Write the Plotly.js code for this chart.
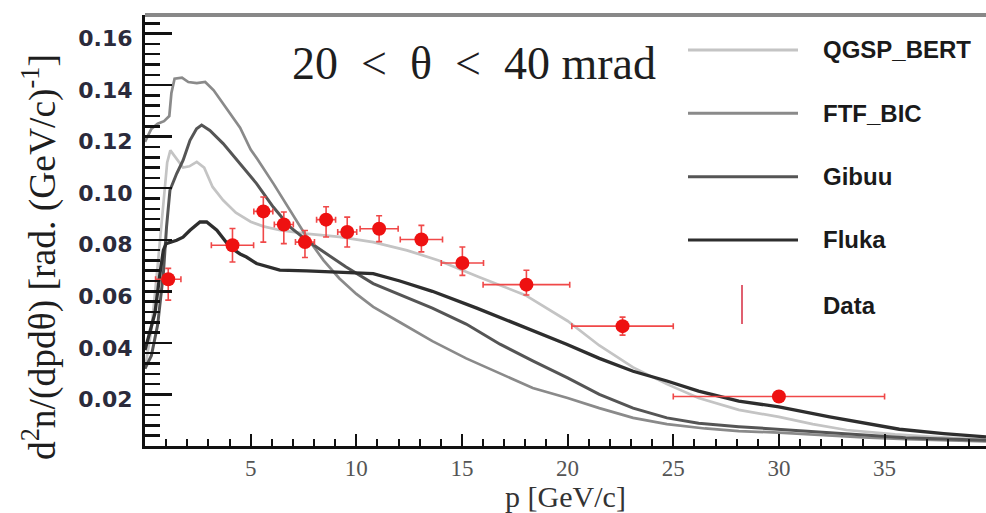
<!DOCTYPE html>
<html>
<head>
<meta charset="utf-8">
<script src="https://cdn.plot.ly/plotly-3.0.1.min.js"></script>
<style>html,body{margin:0;padding:0;background:#fff;}#chart{width:986px;height:513px;}</style>
</head>
<body>
<div id="chart"></div>
<script>
// ---- data ----
const p_qgsp = [0, 0.3, 0.6, 0.9, 1.05, 1.2, 1.4, 1.8, 2.1, 2.45, 2.8, 3.2, 3.7, 4.3, 5.0, 5.6, 6.4, 7.6, 9.2, 10.8, 12.4, 13.9, 15.8, 18.0, 20.0, 21.5, 23.1, 24.7, 26.2, 28.1, 30.0, 31.6, 33.2, 35.5, 37.5, 39.8];
const v_qgsp = [0.030, 0.045, 0.070, 0.097, 0.110, 0.1147, 0.1125, 0.1080, 0.1085, 0.1102, 0.1080, 0.1005, 0.0953, 0.0905, 0.0870, 0.0852, 0.0837, 0.0824, 0.0811, 0.0791, 0.0759, 0.0720, 0.0656, 0.0585, 0.0485, 0.0390, 0.0305, 0.0240, 0.0186, 0.0140, 0.0113, 0.0085, 0.0062, 0.0045, 0.0035, 0.0025];

const p_ftf = [0, 0.3, 0.6, 0.9, 1.15, 1.25, 1.4, 1.75, 2.05, 2.45, 2.85, 3.25, 3.7, 4.5, 5.0, 5.3, 6.1, 6.9, 7.65, 8.45, 9.2, 10.0, 10.8, 12.1, 13.6, 15.2, 16.8, 18.35, 20.0, 21.5, 23.1, 24.7, 26.5, 28.1, 30, 32, 34, 36, 38, 39.8];
const v_ftf = [0.118, 0.123, 0.125, 0.126, 0.128, 0.137, 0.1425, 0.1429, 0.1412, 0.1408, 0.1412, 0.1380, 0.1328, 0.1235, 0.1150, 0.1115, 0.1015, 0.0912, 0.0811, 0.0720, 0.0650, 0.0590, 0.0540, 0.0478, 0.0407, 0.0340, 0.0280, 0.0225, 0.0186, 0.0147, 0.0109, 0.0085, 0.0068, 0.0058, 0.0052, 0.0042, 0.0033, 0.0027, 0.0022, 0.0018];

const p_gibuu = [0, 0.3, 0.6, 0.87, 1.02, 1.18, 1.5, 1.8, 2.13, 2.44, 2.68, 3.07, 3.7, 4.5, 5.28, 6.07, 6.86, 7.65, 8.6, 9.5, 10.8, 12.1, 13.6, 15.2, 16.8, 18.35, 20.0, 21.5, 23.1, 24.7, 26.2, 28.1, 30, 33, 36, 39.8];
const v_gibuu = [0.030, 0.035, 0.047, 0.067, 0.085, 0.0992, 0.1057, 0.1108, 0.1186, 0.1231, 0.1245, 0.1224, 0.1173, 0.1095, 0.1018, 0.0927, 0.0850, 0.0798, 0.0746, 0.0695, 0.0630, 0.0585, 0.0535, 0.0473, 0.0395, 0.0330, 0.0264, 0.0200, 0.0147, 0.0109, 0.0088, 0.0075, 0.0065, 0.0048, 0.0032, 0.0022];

const p_fluka = [0, 0.47, 0.71, 0.87, 1.0, 1.18, 1.5, 1.8, 2.13, 2.6, 2.92, 3.4, 4.02, 4.5, 4.8, 5.28, 6.38, 7.65, 9.2, 10.8, 12.06, 13.6, 15.7, 17.6, 19.95, 21.5, 23.1, 24.7, 26.2, 28.1, 30, 32.4, 34, 35.7, 37.8, 39.8];
const v_fluka = [0.0372, 0.0515, 0.067, 0.076, 0.0785, 0.0790, 0.0798, 0.0810, 0.0837, 0.0869, 0.0869, 0.0837, 0.0772, 0.0745, 0.0733, 0.0708, 0.0682, 0.0679, 0.0675, 0.0669, 0.0640, 0.0600, 0.0535, 0.0473, 0.0395, 0.0340, 0.0290, 0.0252, 0.0213, 0.0174, 0.0152, 0.0113, 0.0089, 0.0065, 0.0048, 0.0035];

const data_p      = [1.1, 4.14, 5.6, 6.57, 7.57, 8.57, 9.57, 11.08, 13.08, 15.02, 18.05, 22.6, 30.0];
const data_v      = [0.0647, 0.0779, 0.0910, 0.0859, 0.0791, 0.0878, 0.0830, 0.0843, 0.0801, 0.0710, 0.0626, 0.0465, 0.0192];
const data_perr   = [0.6, 1.0, 0.45, 0.45, 0.45, 0.45, 0.45, 0.9, 1.0, 1.0, 2.05, 2.4, 5.0];
const data_vplus  = [0.0042, 0.0065, 0.0056, 0.0049, 0.0045, 0.0050, 0.0058, 0.0050, 0.0055, 0.0062, 0.0056, 0.0035, 0.0020];
const data_vminus = [0.0081, 0.0065, 0.0119, 0.0074, 0.0060, 0.0067, 0.0058, 0.0050, 0.0048, 0.0048, 0.0040, 0.0035, 0.0020];

const seriesNames = ['QGSP_BERT', 'FTF_BIC', 'Gibuu', 'Fluka'];
const dataName = 'Data';
const xTickVals = [5, 10, 15, 20, 25, 30, 35];
const xTickText = ['5', '10', '15', '20', '25', '30', '35'];
const yTickVals = [0.02, 0.04, 0.06, 0.08, 0.10, 0.12, 0.14, 0.16];
const yTickText = ['0.02', '0.04', '0.06', '0.08', '0.10', '0.12', '0.14', '0.16'];

// ---- styles ----
const lineColors = ['#c4c4c4', '#8a8a8a', '#555555', '#2e2e2e'];
const lineWidths = [2.7, 2.7, 3, 3.3];
const red = '#ee1111';
const errRed = '#f04848';

const xs = [p_qgsp, p_ftf, p_gibuu, p_fluka];
const ys = [v_qgsp, v_ftf, v_gibuu, v_fluka];

const traces = seriesNames.map((n, i) => ({
  type: 'scatter', mode: 'lines', name: n,
  x: xs[i], y: ys[i],
  line: {color: lineColors[i], width: lineWidths[i]},
  showlegend: false, hoverinfo: 'skip'
}));
traces.push({
  type: 'scatter', mode: 'markers', name: dataName,
  x: data_p, y: data_v,
  marker: {color: red, size: 14},
  error_x: {type: 'data', array: data_perr, color: errRed, thickness: 1.6, width: 3},
  error_y: {type: 'data', symmetric: false, array: data_vplus, arrayminus: data_vminus, color: errRed, thickness: 1.6, width: 3},
  showlegend: false, hoverinfo: 'skip'
});

// ---- hand-made legend (long line samples like the reference) ----
const L = 145, R = 986, T = 15, B = 446;
const px = v => (v - L) / (R - L);
const py = v => (B - v) / (B - T);
const legendRowsY = [50, 113.3, 176.7, 240, 305];
const shapes = [
  {type: 'line', xref: 'paper', yref: 'paper', x0: 0, x1: 1, y0: 1, y1: 1, line: {color: '#888', width: 4}}
];
const annotations = [];
seriesNames.forEach((n, i) => {
  shapes.push({type: 'line', xref: 'paper', yref: 'paper', x0: px(688), x1: px(798),
    y0: py(legendRowsY[i]), y1: py(legendRowsY[i]), line: {color: lineColors[i], width: 3}});
  annotations.push({xref: 'paper', yref: 'paper', x: px(821), y: py(legendRowsY[i]), xanchor: 'left', yanchor: 'middle',
    text: n, showarrow: false, font: {family: 'Liberation Sans, Arial, sans-serif', size: 24, color: '#1a1a1a', weight: 'bold'}});
});
shapes.push({type: 'line', xref: 'paper', yref: 'paper', x0: px(742), x1: px(742), y0: py(285), y1: py(324),
  line: {color: '#e06070', width: 2}});
annotations.push({xref: 'paper', yref: 'paper', x: px(821), y: py(legendRowsY[4]), xanchor: 'left', yanchor: 'middle',
  text: dataName, showarrow: false, font: {family: 'Liberation Sans, Arial, sans-serif', size: 24, color: '#1a1a1a', weight: 'bold'}});

annotations.push({xref: 'paper', yref: 'paper', x: px(474), y: py(63), xanchor: 'center', yanchor: 'middle',
  text: '20\u2002&lt;\u2002θ\u2002&lt;\u200240 mrad', showarrow: false,
  font: {family: 'Liberation Serif, Times New Roman, serif', size: 46, color: '#1e1e1e'}});

annotations.push({xref: 'paper', yref: 'paper', x: px(40), y: py(257), xanchor: 'center', yanchor: 'middle',
  textangle: -90, showarrow: false,
  text: 'd<sup>2</sup>n/(dpdθ) [rad. (GeV/c)<sup>-1</sup>]',
  font: {family: 'Liberation Serif, Times New Roman, serif', size: 37.5, color: '#1e1e1e'}});

const layout = {
  width: 986, height: 513,
  margin: {l: 145, r: 0, t: 15, b: 67, pad: 0},
  paper_bgcolor: '#ffffff', plot_bgcolor: '#ffffff',
  showlegend: false,
  xaxis: {
    range: [0, 39.8], tickmode: 'array', tickvals: xTickVals, ticktext: xTickText,
    ticks: 'inside', ticklen: 12, tickwidth: 2, tickcolor: '#111',
    minor: {tickmode: 'linear', tick0: 0, dtick: 1, ticks: 'inside', ticklen: 7, tickwidth: 2, tickcolor: '#111'},
    showline: true, linecolor: '#111', linewidth: 3, showgrid: false, zeroline: false,
    tickfont: {family: 'Liberation Serif, Times New Roman, serif', size: 23, color: '#555'},
    ticklabelstandoff: -1,
    title: {text: 'p [GeV/c]', font: {family: 'Liberation Serif, Times New Roman, serif', size: 30, color: '#333'}, standoff: 12}
  },
  yaxis: {
    range: [0, 0.1672], tickmode: 'array', tickvals: yTickVals, ticktext: yTickText,
    ticks: 'inside', ticklen: 27, tickwidth: 2.5, tickcolor: '#111',
    minor: {tickmode: 'linear', tick0: 0, dtick: 0.004, ticks: 'inside', ticklen: 15, tickwidth: 2.5, tickcolor: '#111'},
    showline: true, linecolor: '#111', linewidth: 3, showgrid: false, zeroline: false,
    tickfont: {family: 'DejaVu Sans, Verdana, sans-serif', size: 22, color: '#2b2b3b', weight: 'bold'},
    ticklabelstandoff: 5, ticklabelshift: 5
  },
  shapes: shapes,
  annotations: annotations
};

Plotly.newPlot('chart', traces, layout, {displayModeBar: false, staticPlot: true});
</script>
</body>
</html>
